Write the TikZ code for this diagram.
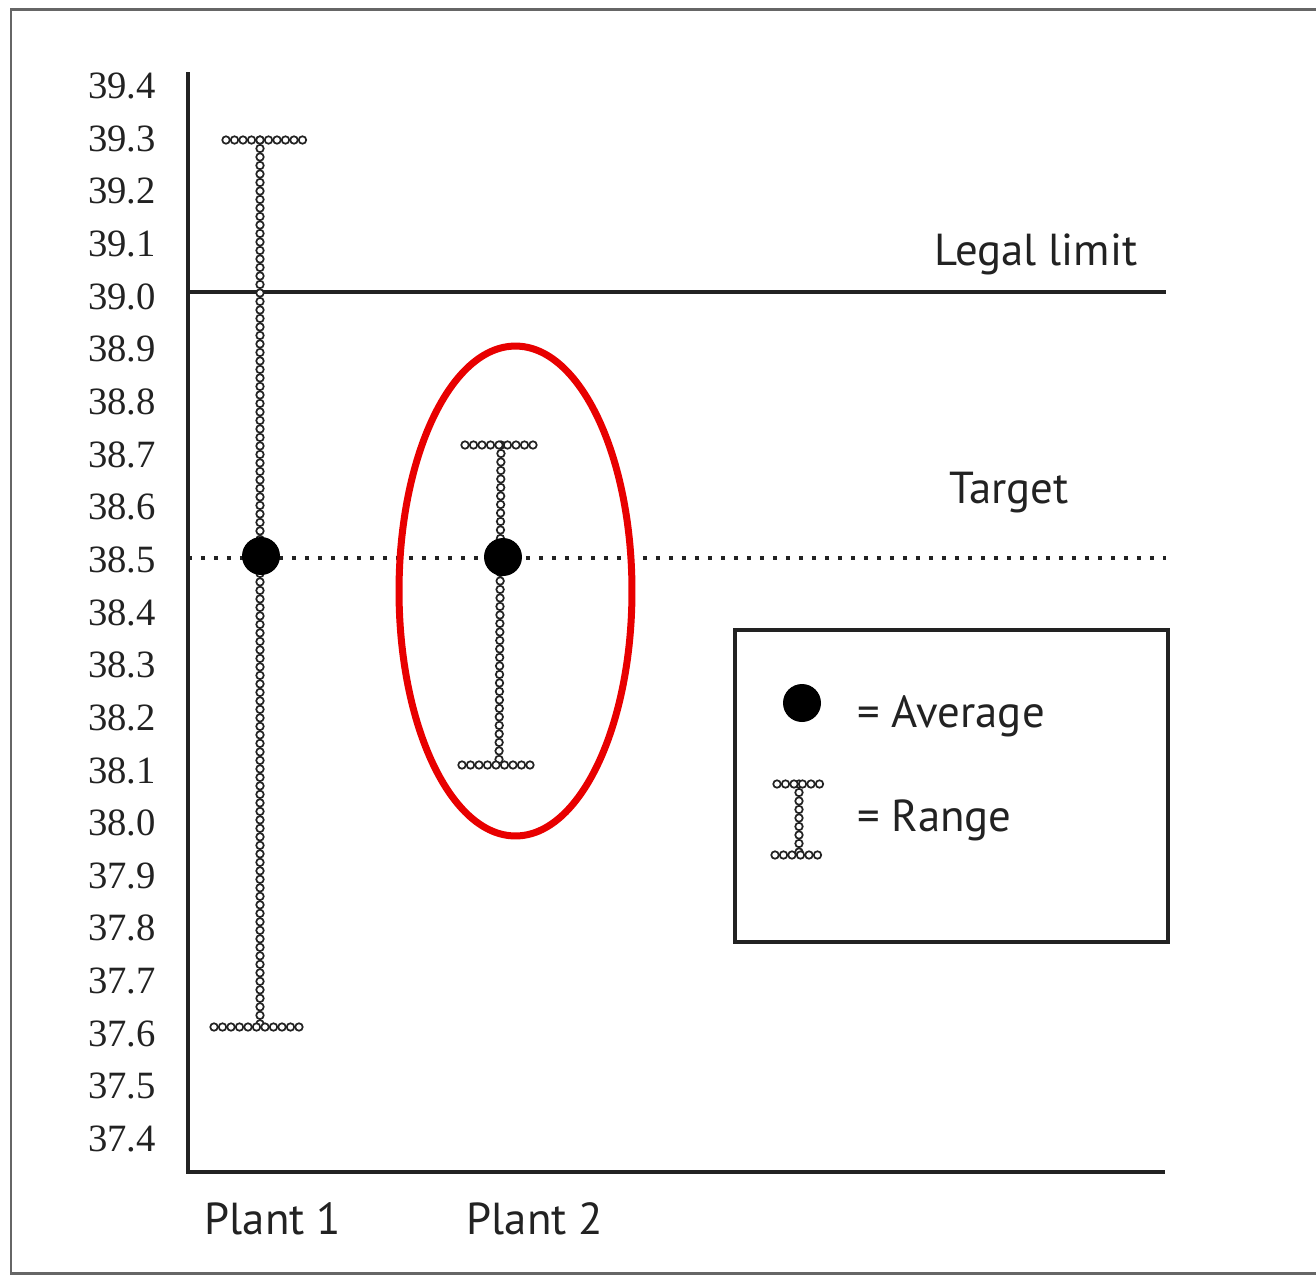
\documentclass[tikz,border=0pt]{standalone}
\usepackage{fontspec}
\setmainfont{Liberation Serif}
\newfontfamily\labelsans{PT Sans}
\usetikzlibrary{decorations.markings}
\definecolor{ink}{HTML}{222222}
\definecolor{ellred}{HTML}{E80000}
\tikzset{
  x=0.02cm, y=-0.02cm,
  axisline/.style={draw=ink, line width=0.08cm},
  framebox/.style={draw=gray!80!black, line width=0.06cm},
  ticklabel/.style={anchor=east, inner sep=0pt, text=ink, font=\fontsize{22}{22}\selectfont},
  sanslabel/.style={inner sep=0pt, text=ink, font=\labelsans\fontsize{25.5}{25.5}\selectfont},
  avgdot/.style={circle, fill=black, minimum size=0.76cm, inner sep=0pt},
  beads/.style={postaction={decorate, decoration={markings,
      mark=between positions 0 and 1 step 0.17cm with {\draw[ink, fill=white, line width=0.034cm] (0,0) circle (0.075cm);}}}},
  targetline/.style={draw=ink, line width=0.085cm, dash pattern=on 0.085cm off 0.175cm},
  legendbox/.style={draw=ink, line width=0.08cm},
  highlight/.style={draw=ellred, line width=0.14cm},
}
\begin{document}
\begin{tikzpicture}
\useasboundingbox (0,0) rectangle (1316,1276);
\clip (0,0) rectangle (1316,1276);
\fill[white] (0,0) rectangle (1316,1276);
% outer frame (right side beyond the image)
\draw[framebox] (11,9) rectangle (1340,1273);

% axes
\coordinate (ytop) at (188,72);
\coordinate (origin) at (188,1172);
\coordinate (xend) at (1165,1172);
\draw[axisline] (ytop) -- (origin) -- (xend);

% tick labels
\foreach \v [count=\i from 0] in {39.4,39.3,39.2,39.1,39.0,38.9,38.8,38.7,38.6,38.5,38.4,38.3,38.2,38.1,38.0,37.9,37.8,37.7,37.6,37.5,37.4}{
  \node[ticklabel] (tick\i) at (156,{86+\i*52.65}) {\v};
}

% legal limit and target lines
\coordinate (legalL) at (188,292);
\coordinate (legalR) at (1166,292);
\draw[axisline, line width=0.075cm] (legalL) -- (legalR);
\node[sanslabel] (legaltext) at (1036,254) {Legal limit};

\coordinate (targetL) at (188,558);
\coordinate (targetR) at (1166,558);
\draw[targetline] (targetL) -- (targetR);
\node[sanslabel] (targettext) at (1009,493) {Target};

% Plant 1 range
\coordinate (p1top) at (260,140);
\coordinate (p1bot) at (260,1027);
\coordinate (p1tl) at (226,140);
\coordinate (p1tr) at (305,140);
\coordinate (p1bl) at (214,1027);
\coordinate (p1br) at (299,1027);
\path[beads] (p1top) -- (p1bot);
\path[beads] (p1tl) -- (p1tr);
\path[beads] (p1bl) -- (p1br);
\node[avgdot] (p1avg) at (261,556) {};

% Plant 2 range
\coordinate (p2top) at (501,445);
\coordinate (p2bot) at (499,765);
\coordinate (p2tl) at (465,445);
\coordinate (p2tr) at (541,445);
\coordinate (p2bl) at (462,765);
\coordinate (p2br) at (536,765);
\path[beads] (p2top) -- (p2bot);
\path[beads] (p2tl) -- (p2tr);
\path[beads] (p2bl) -- (p2br);
\node[avgdot] (p2avg) at (503,557) {};

% x labels
\node[sanslabel] (plant1) at (273,1219) {Plant 1};
\node[sanslabel] (plant2) at (535,1219) {Plant 2};

% highlight ellipse
\draw[highlight] (515.5,591) ellipse [x radius=2.33cm, y radius=4.9cm];

% legend
\node[legendbox, minimum width=8.66cm, minimum height=6.24cm, inner sep=0pt] (legend) at (951.5,786) {};
\node[avgdot] (legdot) at (802,703) {};
\node[sanslabel, anchor=west] (legavg) at (857,716) {= Average};
\coordinate (lrtop) at (799,784);
\coordinate (lrbot) at (799,855);
\coordinate (lrtl) at (777,784);
\coordinate (lrtr) at (822,784);
\coordinate (lrbl) at (775,855);
\coordinate (lrbr) at (820,855);
\path[beads] (lrtop) -- (lrbot);
\path[beads] (lrtl) -- (lrtr);
\path[beads] (lrbl) -- (lrbr);
\node[sanslabel, anchor=west] (legrange) at (857,820) {= Range};
\end{tikzpicture}
\end{document}
